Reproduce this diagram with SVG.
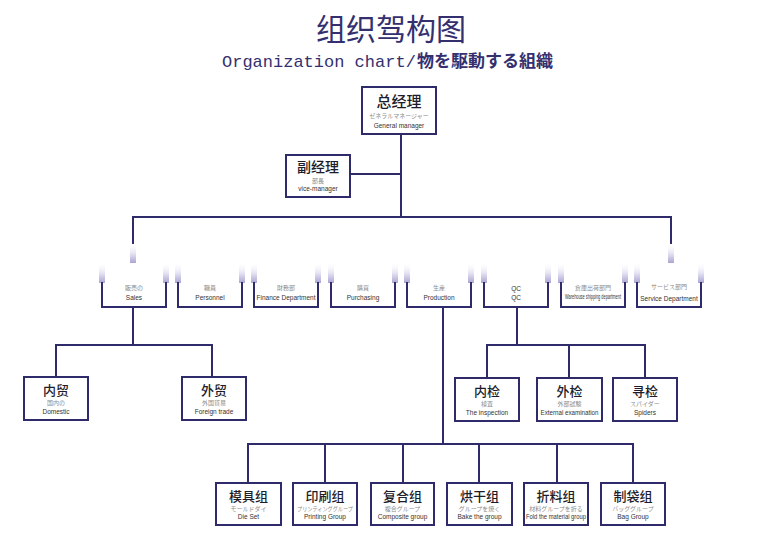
<svg xmlns="http://www.w3.org/2000/svg" width="782" height="550" viewBox="0 0 782 550">
<defs>
<linearGradient id="fade" x1="0" y1="0" x2="0" y2="1">
<stop offset="0" stop-color="#ffffff" stop-opacity="0"/>
<stop offset="0.6" stop-color="#dcdaee"/>
<stop offset="1" stop-color="#a9a5d2"/>
</linearGradient>
<style>
.ln{stroke:#2f2b6b;stroke-width:2;fill:none;stroke-linecap:square}
.bx{stroke:#2f2b6b;stroke-width:2;fill:#ffffff}
.fd{fill:url(#fade)}
.big{font-family:"Noto Sans CJK SC","Noto Sans CJK JP",sans-serif;font-weight:500;fill:#1c1c2a;text-anchor:middle}
.jp{font-family:"Noto Sans CJK JP","Noto Sans CJK SC",serif;fill:#8a8a8a;text-anchor:middle;font-size:6px}
.en{font-family:"Liberation Sans","DejaVu Sans",sans-serif;fill:#333333;text-anchor:middle;font-size:6.5px}
</style>
</defs>
<rect width="782" height="550" fill="#ffffff"/>
<g id="title">
<text x="391" y="40" font-family="Noto Sans CJK SC,sans-serif" font-size="30" fill="#34306f" text-anchor="middle">组织驾构图</text>
<text x="222" y="67" font-family="Liberation Mono,monospace" font-size="17" fill="#34306f">Organization chart/</text>
<text x="417" y="67" font-family="Noto Sans CJK JP,sans-serif" font-weight="bold" font-size="17" fill="#34306f">物を駆動する組織</text>
</g>
<g id="connectors">
<path class="ln" d="M401 134V217M350 174H401M133 217H671M133 217V243M671 217V243"/>
<rect class="fd" x="130" y="243" width="6" height="20"/>
<rect class="fd" x="668" y="243" width="6" height="20"/>
<path class="ln" d="M133 307V345M56 345H212M56 345V377M212 345V377"/>
<path class="ln" d="M443 307V444M248 444H633M248 444V483M325 444V483M403 444V483M479 444V483M557 444V483M633 444V483"/>
<path class="ln" d="M517 307V345M487 345H645M487 345V378M569 345V378M645 345V378"/>
</g>
<g id="general-manager">
<rect class="bx" x="362" y="87" width="74" height="47"/>
<text class="big" x="399" y="107" font-size="15">总经理</text>
<text class="jp" x="399" y="118" font-size="5.5">ゼネラルマネージャー</text>
<text class="en" x="399" y="128">General manager</text>
</g>
<g id="vice-manager">
<rect class="bx" x="286" y="155" width="64" height="42"/>
<text class="big" x="318" y="172" font-size="14">副经理</text>
<text class="jp" x="318" y="183">部長</text>
<text class="en" x="318" y="191">vice-manager</text>
</g>
<g id="sales">
<rect class="fd" x="99" y="262" width="6" height="21"/><rect class="fd" x="163" y="262" width="6" height="21"/>
<path class="ln" d="M102 283V307H166V283"/>
<text class="jp" x="134" y="290">販売の</text><text class="en" x="134" y="300">Sales</text>
</g>
<g id="personnel">
<rect class="fd" x="175" y="262" width="6" height="21"/><rect class="fd" x="239" y="262" width="6" height="21"/>
<path class="ln" d="M178 283V307H242V283"/>
<text class="jp" x="210" y="290">職員</text><text class="en" x="210" y="300">Personnel</text>
</g>
<g id="finance">
<rect class="fd" x="251" y="262" width="6" height="21"/><rect class="fd" x="315" y="262" width="6" height="21"/>
<path class="ln" d="M254 283V307H318V283"/>
<text class="jp" x="286" y="290">財務部</text><text class="en" x="286" y="300" font-size="6.2">Finance Department</text>
</g>
<g id="purchasing">
<rect class="fd" x="328" y="262" width="6" height="21"/><rect class="fd" x="392" y="262" width="6" height="21"/>
<path class="ln" d="M331 283V307H395V283"/>
<text class="jp" x="363" y="290">購買</text><text class="en" x="363" y="300">Purchasing</text>
</g>
<g id="production">
<rect class="fd" x="404" y="262" width="6" height="21"/><rect class="fd" x="468" y="262" width="6" height="21"/>
<path class="ln" d="M407 283V307H471V283"/>
<text class="jp" x="439" y="290">生産</text><text class="en" x="439" y="300">Production</text>
</g>
<g id="qc">
<rect class="fd" x="481" y="262" width="6" height="21"/><rect class="fd" x="545" y="262" width="6" height="21"/>
<path class="ln" d="M484 283V307H548V283"/>
<text class="en" x="516" y="291">QC</text><text class="en" x="516" y="300">QC</text>
</g>
<g id="warehouse">
<rect class="fd" x="558" y="262" width="6" height="21"/><rect class="fd" x="622" y="262" width="6" height="21"/>
<path class="ln" d="M561 283V307H625V283"/>
<text class="jp" x="593" y="290">倉庫出荷部門</text><text class="en" x="593" y="299" font-size="4" textLength="56" lengthAdjust="spacingAndGlyphs">Warehouse shipping department</text>
</g>
<g id="service">
<rect class="fd" x="634" y="262" width="6" height="21"/><rect class="fd" x="698" y="262" width="6" height="21"/>
<path class="ln" d="M637 283V307H701V283"/>
<text class="jp" x="669" y="289">サービス部門</text><text class="en" x="669" y="300.5" font-size="6">Service Department</text>
</g>
<g id="domestic">
<rect class="bx" x="24" y="377" width="64" height="43"/>
<text class="big" x="56" y="395" font-size="13">内贸</text>
<text class="jp" x="56" y="405">国内の</text><text class="en" x="56" y="414">Domestic</text>
</g>
<g id="foreign-trade">
<rect class="bx" x="182" y="377" width="64" height="43"/>
<text class="big" x="214" y="395" font-size="13">外贸</text>
<text class="jp" x="214" y="405">外国貿易</text><text class="en" x="214" y="414">Foreign trade</text>
</g>
<g id="inspection">
<rect class="bx" x="455" y="378" width="64" height="43"/>
<text class="big" x="487" y="396" font-size="13">内检</text>
<text class="jp" x="487" y="406">検査</text><text class="en" x="487" y="415">The inspection</text>
</g>
<g id="external">
<rect class="bx" x="537" y="378" width="65" height="43"/>
<text class="big" x="569.5" y="396" font-size="13">外检</text>
<text class="jp" x="569.5" y="406">外部試験</text><text class="en" x="569.5" y="415" textLength="58" lengthAdjust="spacingAndGlyphs">External examination</text>
</g>
<g id="spiders">
<rect class="bx" x="613" y="378" width="64" height="43"/>
<text class="big" x="645" y="396" font-size="13">寻检</text>
<text class="jp" x="645" y="406">スパイダー</text><text class="en" x="645" y="415">Spiders</text>
</g>
<g id="die-set">
<rect class="bx" x="216" y="483" width="65" height="42"/>
<text class="big" x="248.5" y="501" font-size="13">模具组</text>
<text class="jp" x="248.5" y="511" font-size="5.5">モールドダイ</text><text class="en" x="248.5" y="519">Die Set</text>
</g>
<g id="printing">
<rect class="bx" x="293" y="483" width="64" height="42"/>
<text class="big" x="325" y="501" font-size="13">印刷组</text>
<text class="jp" x="325" y="511" font-size="5" textLength="56" lengthAdjust="spacingAndGlyphs">プリンティンググループ</text><text class="en" x="325" y="519">Printing Group</text>
</g>
<g id="composite">
<rect class="bx" x="371" y="483" width="63" height="42"/>
<text class="big" x="402.5" y="501" font-size="13">复合组</text>
<text class="jp" x="402.5" y="511" font-size="5.5">複合グループ</text><text class="en" x="402.5" y="519">Composite group</text>
</g>
<g id="bake">
<rect class="bx" x="447" y="483" width="65" height="42"/>
<text class="big" x="479.5" y="501" font-size="13">烘干组</text>
<text class="jp" x="479.5" y="511" font-size="5.5">グループを焼く</text><text class="en" x="479.5" y="519">Bake the group</text>
</g>
<g id="fold">
<rect class="bx" x="524" y="483" width="64" height="42"/>
<text class="big" x="556" y="501" font-size="13">折料组</text>
<text class="jp" x="556" y="511" font-size="5.5">材料グループを折る</text><text class="en" x="556" y="519" textLength="60" lengthAdjust="spacingAndGlyphs">Fold the material group</text>
</g>
<g id="bag">
<rect class="bx" x="601" y="483" width="64" height="42"/>
<text class="big" x="633" y="501" font-size="13">制袋组</text>
<text class="jp" x="633" y="511" font-size="5.5">バッググループ</text><text class="en" x="633" y="519">Bag Group</text>
</g>
</svg>
